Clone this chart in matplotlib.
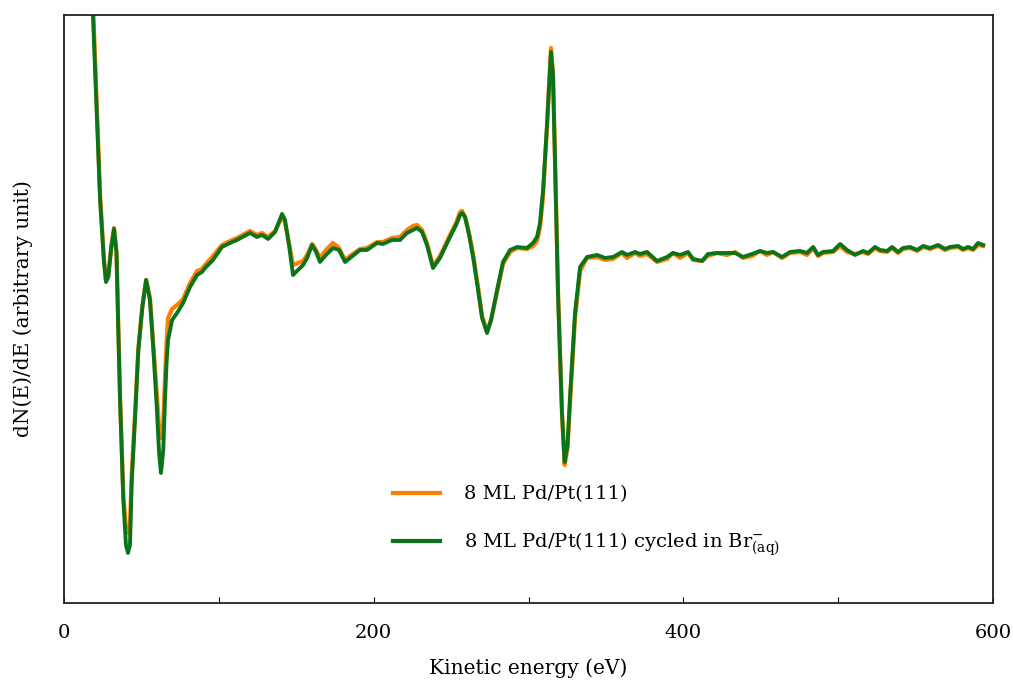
import matplotlib
matplotlib.use("Agg")
import matplotlib.pyplot as plt
from matplotlib.ticker import MultipleLocator

plt.rcParams["font.family"] = ["DejaVu Serif"]
plt.rcParams["mathtext.fontset"] = "custom"
plt.rcParams["mathtext.rm"] = "DejaVu Serif"
plt.rcParams["mathtext.it"] = "DejaVu Serif:italic"
plt.rcParams["mathtext.bf"] = "DejaVu Serif:bold"

# Auger spectra, derivative mode (arbitrary units)
energy = [
    17.1, 18.7, 21.0, 23.3, 25.8, 27.1, 28.6, 30.5, 32.3, 33.9,
    35.1, 36.2, 38.3, 40.0, 41.3, 42.6, 43.7, 45.9, 48.0, 50.6,
    53.0, 55.5, 57.7, 59.9, 61.4, 62.6, 64.1, 65.2, 66.3, 67.2,
    69.8, 73.0, 76.9, 81.4, 85.9, 89.1, 91.1, 96.2, 102.0, 107.2,
    111.7, 120.1, 124.6, 127.9, 131.8, 136.3, 140.8, 142.7, 145.3, 147.9,
    154.4, 157.0, 160.2, 162.8, 165.3, 169.2, 173.7, 177.6, 181.5, 184.7,
    191.2, 195.7, 202.2, 206.0, 211.8, 217.0, 221.5, 225.4, 228.0, 231.2,
    234.4, 238.3, 242.8, 249.3, 253.2, 255.8, 257.1, 259.0, 261.6, 264.2,
    267.4, 270.0, 273.2, 275.8, 279.7, 283.5, 288.1, 292.6, 299.0, 302.9,
    305.5, 307.4, 309.4, 312.0, 313.3, 314.5, 315.8, 317.1, 319.1, 321.6,
    323.3, 325.2, 326.8, 330.0, 333.3, 337.8, 344.3, 349.4, 354.6, 360.4,
    363.6, 368.8, 372.0, 376.5, 383.0, 389.5, 393.3, 397.9, 403.0, 406.3,
    412.1, 415.9, 421.7, 428.2, 433.4, 438.5, 444.4, 449.5, 454.0, 457.9,
    463.7, 468.9, 475.4, 479.9, 483.8, 487.0, 490.2, 496.7, 501.2, 505.7,
    510.9, 516.0, 519.3, 523.8, 527.0, 531.6, 534.8, 538.7, 541.9, 546.4,
    551.0, 554.8, 559.3, 564.5, 569.0, 572.2, 577.4, 580.6, 583.9, 587.1,
    590.3, 593.6,
]

pd_pt = [
    640, 600, 505, 408, 343, 323, 328, 357, 375, 350,
    272, 205, 108, 75, 70, 78, 128, 190, 255, 297,
    323, 305, 258, 210, 175, 165, 180, 225, 262, 285,
    294, 298, 304, 320, 332, 334, 338, 347, 358, 362,
    365, 372, 368, 370, 366, 372, 386, 381, 360, 338,
    342, 348, 359, 353, 345, 353, 360, 355, 343, 347,
    354, 355, 361, 361, 365, 366, 373, 377, 378, 373,
    360, 337, 347, 368, 380, 391, 392, 386, 370, 349,
    316, 287, 272, 283, 311, 339, 351, 355, 354, 357,
    362, 375, 407, 478, 520, 555, 530, 445, 310, 190,
    138, 155, 200, 284, 332, 345, 346, 343, 344, 350,
    345, 350, 347, 349, 341, 344, 350, 345, 350, 343,
    342, 347, 350, 348, 351, 345, 347, 352, 348, 351,
    345, 350, 351, 348, 355, 347, 350, 351, 357, 351,
    349, 351, 349, 355, 352, 351, 355, 350, 354, 355,
    352, 356, 354, 357, 353, 355, 356, 353, 355, 353,
    358, 357,
]

pd_pt_br = [
    633, 588, 496, 403, 341, 321, 326, 355, 374, 350,
    270, 203, 103, 58, 50, 58, 120, 186, 253, 296,
    323, 303, 253, 196, 150, 130, 153, 203, 243, 263,
    283, 290, 300, 316, 328, 331, 335, 343, 356, 360,
    363, 370, 366, 368, 364, 371, 389, 383, 358, 328,
    338, 345, 358, 351, 341, 348, 355, 353, 341, 345,
    353, 353, 360, 359, 363, 363, 370, 373, 375, 371,
    358, 335, 345, 366, 378, 388, 390, 386, 368, 346,
    313, 285, 270, 283, 313, 341, 353, 356, 355, 360,
    366, 380, 413, 480, 518, 551, 528, 440, 306, 190,
    141, 158, 206, 290, 336, 346, 348, 345, 346, 351,
    348, 351, 349, 351, 342, 346, 350, 348, 351, 344,
    342, 349, 350, 350, 350, 346, 349, 352, 350, 351,
    346, 351, 352, 350, 356, 348, 351, 352, 359, 353,
    348, 352, 350, 356, 353, 352, 356, 351, 355, 356,
    353, 357, 355, 358, 354, 356, 357, 354, 356, 354,
    360, 358,
]

fig = plt.figure(figsize=(10.13, 6.87), dpi=100)
ax = fig.add_axes([0.0632, 0.1223, 0.9171, 0.8559])

ax.plot(energy, pd_pt, color="#ff7f00", lw=3.0, solid_joinstyle="round",
        label="8 ML Pd/Pt(111)")
ax.plot(energy, pd_pt_br, color="#0c7418", lw=2.8, solid_joinstyle="round",
        label=r"8 ML Pd/Pt(111) cycled in Br$^{-}_{\mathrm{(aq)}}$")

ax.set_xlim(0, 600)
ax.set_ylim(0, 588)
ax.xaxis.set_major_locator(MultipleLocator(200))
ax.xaxis.set_minor_locator(MultipleLocator(100))
ax.tick_params(axis="x", which="both", direction="in", length=4, width=0.8,
               labelsize=14, pad=15)
ax.set_yticks([])
for sp in ax.spines.values():
    sp.set_linewidth(1.3)
    sp.set_color("#222222")

ax.set_xlabel("Kinetic energy (eV)", fontsize=14.5, labelpad=12)
ax.set_ylabel("dN(E)/dE (arbitrary unit)", fontsize=14.5, labelpad=22)

leg = ax.legend(loc="upper left", bbox_to_anchor=(0.354, 0.200), frameon=False,
                fontsize=14, handlelength=2.4, handletextpad=1.25,
                labelspacing=1.4, borderpad=0, borderaxespad=0)
for line in leg.get_lines():
    line.set_linewidth(3.0)

fig.savefig("out.png", dpi=100)
